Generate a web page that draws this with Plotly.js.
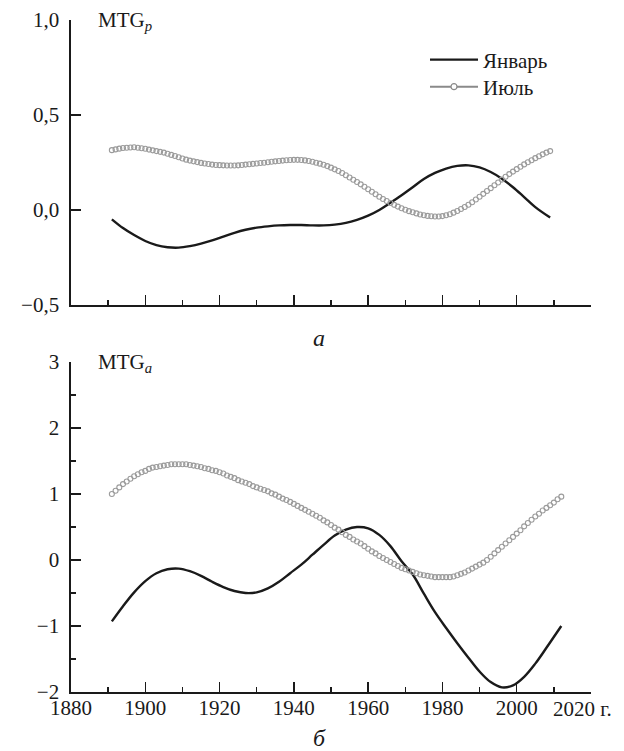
<!DOCTYPE html>
<html>
<head>
<meta charset="utf-8">
<script src="https://cdn.plot.ly/plotly-3.0.1.min.js"></script>
<style>html,body{margin:0;padding:0;background:#fff;}#chart{width:624px;height:751px;}</style>
</head>
<body>
<div id="chart"></div>
<script>
// ---- Data ----
// Panel a: MTG_p
var janTopYears = [1891,1894,1897,1900,1903,1906,1909,1912,1915,1918,1921,1924,1927,1930,1933,1936,1939,1942,1945,1948,1951,1954,1957,1960,1963,1966,1969,1972,1975,1978,1981,1984,1987,1990,1993,1996,1999,2002,2005,2009];
var janTopVals  = [-0.049,-0.095,-0.132,-0.163,-0.185,-0.196,-0.198,-0.19,-0.177,-0.16,-0.14,-0.12,-0.104,-0.093,-0.086,-0.081,-0.079,-0.079,-0.081,-0.081,-0.077,-0.068,-0.052,-0.03,0.0,0.038,0.078,0.12,0.163,0.195,0.218,0.232,0.235,0.224,0.2,0.165,0.12,0.068,0.015,-0.04];

var julTopStart = 1891; // yearly values 1891..2009
var julTopVals = [
 0.315,0.319,0.323,0.326,0.328,0.329,0.330,0.328,0.325,0.322,
 0.318,0.314,0.310,0.306,0.302,0.296,0.290,0.284,0.278,0.271,
 0.265,0.260,0.256,0.252,0.248,0.245,0.242,0.239,0.237,0.236,
 0.235,0.234,0.234,0.234,0.235,0.237,0.239,0.241,0.243,0.245,
 0.247,0.249,0.251,0.254,0.256,0.258,0.260,0.262,0.263,0.264,
 0.264,0.263,0.261,0.258,0.254,0.249,0.244,0.238,0.231,0.223,
 0.214,0.205,0.195,0.183,0.171,0.159,0.147,0.135,0.122,0.109,
 0.096,0.083,0.070,0.058,0.047,0.037,0.027,0.018,0.009,0.001,
 -0.006,-0.012,-0.018,-0.024,-0.028,-0.031,-0.033,-0.034,-0.034,-0.032,
 -0.028,-0.022,-0.014,-0.005,0.005,0.016,0.028,0.041,0.055,0.070,
 0.085,0.100,0.115,0.130,0.145,0.160,0.175,0.189,0.202,0.215,
 0.228,0.240,0.251,0.262,0.273,0.283,0.293,0.302,0.310];

// Panel б: MTG_a
var janBotYears = [1891,1894,1897,1900,1903,1906,1909,1912,1915,1918,1921,1924,1927,1930,1933,1936,1939,1942,1945,1948,1951,1954,1957,1960,1963,1966,1969,1972,1975,1978,1981,1984,1987,1990,1993,1996,1999,2002,2005,2008,2012];
var janBotVals  = [-0.93,-0.70,-0.49,-0.32,-0.20,-0.14,-0.13,-0.17,-0.24,-0.33,-0.41,-0.47,-0.50,-0.49,-0.43,-0.33,-0.20,-0.07,0.08,0.23,0.37,0.46,0.50,0.48,0.38,0.21,-0.02,-0.22,-0.51,-0.79,-1.03,-1.26,-1.48,-1.69,-1.85,-1.93,-1.90,-1.77,-1.57,-1.33,-1.00];

var julBotStart = 1891; // yearly values 1891..2012
var julBotVals = [
 1.00,1.05,1.10,1.15,1.19,1.23,1.27,1.30,1.33,1.35,
 1.38,1.40,1.41,1.42,1.43,1.44,1.45,1.45,1.45,1.45,
 1.45,1.44,1.43,1.42,1.41,1.39,1.38,1.36,1.35,1.33,
 1.31,1.28,1.26,1.24,1.21,1.19,1.17,1.15,1.12,1.10,
 1.08,1.06,1.04,1.01,0.99,0.96,0.93,0.91,0.88,0.85,
 0.82,0.79,0.76,0.73,0.70,0.67,0.64,0.60,0.57,0.53,
 0.49,0.46,0.42,0.38,0.35,0.31,0.28,0.25,0.21,0.17,
 0.13,0.10,0.06,0.03,0.00,-0.03,-0.06,-0.09,-0.12,-0.14,
 -0.16,-0.18,-0.20,-0.22,-0.23,-0.24,-0.25,-0.26,-0.26,-0.26,
 -0.26,-0.26,-0.25,-0.23,-0.21,-0.19,-0.16,-0.13,-0.10,-0.07,
 -0.04,0.00,0.05,0.10,0.15,0.20,0.25,0.30,0.35,0.40,
 0.45,0.51,0.56,0.61,0.66,0.70,0.75,0.79,0.83,0.87,
 0.92,0.96];

var seriesNames = ['Январь', 'Июль'];
var topTickVals = [-0.5, 0, 0.5, 1.0];
var topTickText = ['\u22120,5', '0,0', '0,5', '1,0'];
var botTickVals = [-2, -1, 0, 1, 2, 3];
var botTickText = ['\u22122', '\u22121', '0', '1', '2', '3'];
var botMinorVals = [-1.5, -0.5, 0.5, 1.5, 2.5];
var xTickVals = [1880, 1900, 1920, 1940, 1960, 1980, 2000, 2020];
var xTickText = ['1880', '1900', '1920', '1940', '1960', '1980', '2000', ''];
var xLastLabel = '2020 г.';
var panelTitles = ['MTG<sub><i>p</i></sub>', 'MTG<sub><i>a</i></sub>'];
var panelLetters = ['<i>а</i>', '<i>б</i>'];

// ---- Build ----
function yearsFrom(start, n) { var a = []; for (var i = 0; i < n; i++) a.push(start + i); return a; }
var julTopYears = yearsFrom(julTopStart, julTopVals.length);
var julBotYears = yearsFrom(julBotStart, julBotVals.length);

var FONT = 'Liberation Serif, Times New Roman, Times, serif';
var INK = '#1a1a1a';
var GRAY = '#9b9b9b';

var janLine = {color: INK, width: 2.4, shape: 'spline', smoothing: 1.0};
var julMarker = {symbol: 'circle-open', size: 5, color: GRAY, line: {width: 1.1, color: GRAY}};

var traces = [
  {x: janTopYears, y: janTopVals, xaxis: 'x', yaxis: 'y', mode: 'lines', line: janLine, name: seriesNames[0], showlegend: true, legend: 'legend'},
  {x: julTopYears, y: julTopVals, xaxis: 'x', yaxis: 'y', mode: 'markers', marker: julMarker, name: seriesNames[1], showlegend: false},
  {x: janBotYears, y: janBotVals, xaxis: 'x2', yaxis: 'y2', mode: 'lines', line: janLine, name: seriesNames[0], showlegend: false},
  {x: julBotYears, y: julBotVals, xaxis: 'x2', yaxis: 'y2', mode: 'markers', marker: julMarker, name: seriesNames[1], showlegend: false},
  // legend-only entry for July (line-circle-line sample)
  {x: [null], y: [null], xaxis: 'x', yaxis: 'y', mode: 'lines+markers', name: seriesNames[1], showlegend: true, legend: 'legend2',
   line: {color: '#8a8a8a', width: 2}, marker: {symbol: 'circle', size: 6, color: '#ffffff', line: {color: '#8a8a8a', width: 1.2}}}
];

var W = 624, H = 751;
function px2x(p) { return p / W; }
function px2y(p) { return 1 - p / H; }

var xDomain = [px2x(71), px2x(591)];
var common = {
  showline: true, linecolor: INK, linewidth: 1.6, mirror: false,
  ticks: 'inside', ticklen: 10, tickwidth: 1.5, tickcolor: INK,
  showgrid: false, zeroline: false,
  tickfont: {family: FONT, size: 21, color: INK}
};
function ext(o, extra) { var r = {}; for (var k in o) r[k] = o[k]; for (var k2 in extra) r[k2] = extra[k2]; return r; }

var xMinor = {dtick: 10, tick0: 1880, ticks: 'inside', ticklen: 5, tickwidth: 1.5, tickcolor: INK, showgrid: false};
var legendBase = {xanchor: 'left', yanchor: 'middle', bgcolor: 'rgba(0,0,0,0)',
                  font: {family: FONT, size: 21, color: INK}, tracegroupgap: 0, itemwidth: 48};

var layout = {
  width: W, height: H,
  margin: {l: 0, r: 0, t: 0, b: 0},
  paper_bgcolor: '#ffffff', plot_bgcolor: '#ffffff',
  font: {family: FONT, size: 21, color: INK},
  showlegend: true,
  legend: ext(legendBase, {x: px2x(425), y: px2y(60)}),
  legend2: ext(legendBase, {x: px2x(425), y: px2y(87)}),
  xaxis: ext(common, {domain: xDomain, anchor: 'y', range: [1880, 2020], tickmode: 'array', tickvals: xTickVals, ticktext: xTickText,
                      showticklabels: false, minor: xMinor}),
  yaxis: ext(common, {domain: [px2y(305), px2y(20)], anchor: 'x', range: [-0.5, 1.0], tickmode: 'array',
                      tickvals: topTickVals, ticktext: topTickText, ticklabelstandoff: 6}),
  xaxis2: ext(common, {domain: xDomain, anchor: 'y2', range: [1880, 2020], tickmode: 'array', tickvals: xTickVals, ticktext: xTickText,
                       showticklabels: true, minor: xMinor, ticklabelstandoff: -4}),
  yaxis2: ext(common, {domain: [px2y(692), px2y(362)], anchor: 'x2', range: [-2, 3], tickmode: 'array',
                       tickvals: botTickVals, ticktext: botTickText, ticklabelstandoff: 6,
                       minor: {tickmode: 'array', tickvals: botMinorVals, ticks: 'inside', ticklen: 5, tickwidth: 1.5, tickcolor: INK, showgrid: false}}),
  annotations: [
    {xref: 'paper', yref: 'paper', x: px2x(96), y: px2y(21), xanchor: 'left', yanchor: 'middle', showarrow: false,
     text: panelTitles[0], font: {family: FONT, size: 21, color: INK}},
    {xref: 'paper', yref: 'paper', x: px2x(96), y: px2y(363), xanchor: 'left', yanchor: 'middle', showarrow: false,
     text: panelTitles[1], font: {family: FONT, size: 21, color: INK}},
    {xref: 'paper', yref: 'paper', x: px2x(319), y: px2y(338), xanchor: 'center', yanchor: 'middle', showarrow: false,
     text: panelLetters[0], font: {family: FONT, size: 24, color: INK}},
    {xref: 'paper', yref: 'paper', x: px2x(319), y: px2y(738), xanchor: 'center', yanchor: 'middle', showarrow: false,
     text: panelLetters[1], font: {family: FONT, size: 24, color: INK}},
    {xref: 'paper', yref: 'paper', x: px2x(551), y: px2y(709), xanchor: 'left', yanchor: 'middle', showarrow: false,
     text: xLastLabel, font: {family: FONT, size: 21, color: INK}}
  ]
};

Plotly.newPlot('chart', traces, layout, {displayModeBar: false, staticPlot: true});
</script>
</body>
</html>
